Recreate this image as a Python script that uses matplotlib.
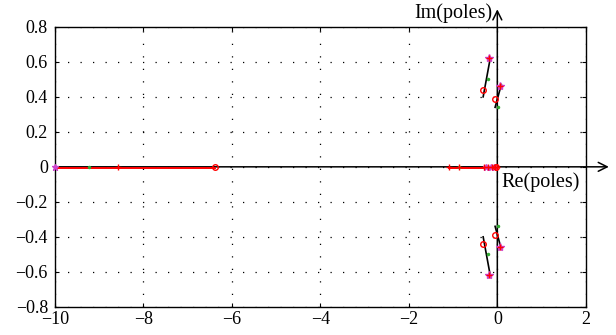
import matplotlib.pyplot as plt

plt.rcParams['font.family'] = ['Liberation Serif', 'DejaVu Serif']
plt.rcParams['axes.unicode_minus'] = True

# real-axis branch
real_line_x = [-10, -6.39]
real_stars = [-10.0]
real_green = [-9.23, -0.86, -0.2]
real_plus = [-8.57, -1.09, -0.86, -0.3, -0.2, -0.12, -0.05, 0.0]
real_mag = [-0.25, -0.15, -0.08]
real_circ = [-6.39, -0.02]
real_line2_x = [-1.09, 0.0]

# complex branches (upper half, mirrored below)
br1_x = [-0.32, -0.16]
br1_y = [0.40, 0.62]
br2_x = [-0.05, 0.09]
br2_y = [0.34, 0.47]
circ_x = [-0.32, -0.05]
circ_y = [0.44, 0.39]
green_x = [-0.2, 0.02]
green_y = [0.50, 0.34]
star_x = [-0.18, 0.07]
star_y = [0.62, 0.46]

fig = plt.figure(figsize=(6.16, 3.35), dpi=100)
ax = fig.add_axes([0.089, 0.084, 0.862, 0.836])

# coordinate axes with arrows
ax.annotate('', xy=(2.52, 0), xytext=(-10, 0), xycoords='data',
            arrowprops=dict(arrowstyle='->', lw=1.1, color='black',
                            mutation_scale=16, shrinkA=0, shrinkB=0),
            annotation_clip=False, zorder=2)
ax.annotate('', xy=(0.0, 0.90), xytext=(0.0, -0.8), xycoords='data',
            arrowprops=dict(arrowstyle='->', lw=1.1, color='black',
                            mutation_scale=16, shrinkA=0, shrinkB=0),
            annotation_clip=False, zorder=2)

ax.plot(real_line_x, [-0.004, -0.004], color='red', lw=1.4, zorder=3)
ax.plot(real_line2_x, [-0.004, -0.004], color='red', lw=1.4, zorder=3)
for s in (1, -1):
    ax.plot(br1_x, [s * v for v in br1_y], color='black', lw=1.2, zorder=3)
    ax.plot(br2_x, [s * v for v in br2_y], color='black', lw=1.2, zorder=3)
    ax.plot(circ_x, [s * v for v in circ_y], 'o', mfc='none', mec='red', ms=4, mew=1, zorder=4)
    ax.plot(green_x, [s * v for v in green_y], '.', color='#33aa33', ms=3, zorder=4)
    ax.plot(star_x, [s * v for v in star_y], '*', color='#cc44cc', ms=6, zorder=4)
    ax.plot(star_x, [s * v for v in star_y], '+', color='red', ms=5, mew=1, zorder=5)

ax.plot(real_stars, [0] * len(real_stars), '*', color='#cc44cc', ms=5, clip_on=False, zorder=4)
ax.plot(real_green, [0] * len(real_green), '.', color='#33aa33', ms=3, zorder=4)
ax.plot(real_mag, [0] * len(real_mag), '*', color='#cc44cc', ms=5, zorder=4)
ax.plot(real_plus, [0] * len(real_plus), '+', color='red', ms=5, mew=1, zorder=5)
ax.plot(real_circ, [0] * len(real_circ), 'o', mfc='none', mec='red', ms=4, mew=1, zorder=5)

ax.set_xlim(-10, 2)
ax.set_ylim(-0.8, 0.8)
ax.set_xticks([-10, -8, -6, -4, -2, 0, 2])
ax.set_yticks([-0.8, -0.6, -0.4, -0.2, 0, 0.2, 0.4, 0.6, 0.8])
ax.set_yticklabels(['\u22120.8', '\u22120.6', '\u22120.4', '\u22120.2', '0',
                    '0.2', '0.4', '0.6', '0.8'])
ax.set_xticklabels(['\u221210', '\u22128', '\u22126', '\u22124', '\u22122', '0', '2'])
ax.tick_params(direction='in', top=True, right=True, length=3, labelsize=13, width=0.8)
ax.tick_params(axis='x', pad=3)
ax.tick_params(axis='y', pad=5)
ax.grid(True, color='black', linestyle=(0, (1, 9)), lw=0.9)
for sp in ax.spines.values():
    sp.set_linewidth(1.0)

ax.text(0.1, -0.03, 'Re(poles)', ha='left', va='top', fontsize=14.5)
ax.text(-0.1, 0.88, 'Im(poles)', ha='right', va='center', fontsize=14.5, clip_on=False)

fig.savefig('out.png', dpi=100)
